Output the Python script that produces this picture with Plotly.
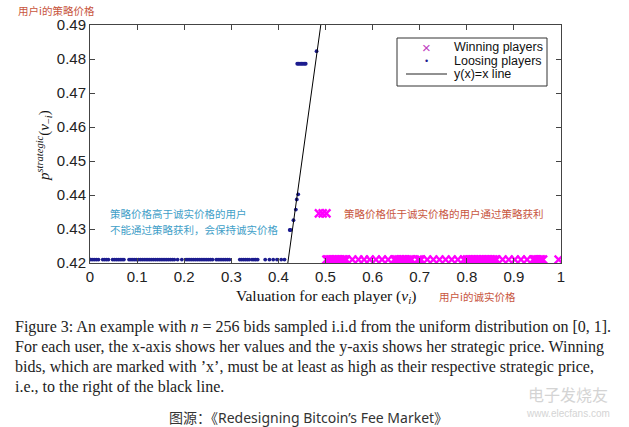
import plotly.graph_objects as go

# ---------------- data ----------------
loser_x = [0.002, 0.006, 0.010, 0.014, 0.018, 0.027, 0.031, 0.035, 0.039,
           0.048, 0.052, 0.056, 0.060, 0.064, 0.068, 0.072,
           0.083, 0.087, 0.091, 0.095, 0.099, 0.103, 0.107, 0.111, 0.115, 0.119,
           0.123, 0.127, 0.131, 0.135, 0.139, 0.143, 0.147, 0.151, 0.155, 0.159,
           0.163, 0.167, 0.171, 0.175, 0.179, 0.186, 0.195,
           0.204, 0.208, 0.212, 0.216, 0.220, 0.224, 0.228, 0.232, 0.236, 0.240,
           0.244, 0.248, 0.252, 0.256, 0.260,
           0.268, 0.272, 0.276, 0.280, 0.284, 0.288, 0.292, 0.296,
           0.318, 0.322, 0.326, 0.330, 0.334, 0.338, 0.344, 0.348, 0.352, 0.356,
           0.372, 0.381, 0.389, 0.397, 0.406, 0.413,
           0.424, 0.426, 0.432, 0.437, 0.439, 0.442,
           0.440, 0.443, 0.446, 0.449, 0.452, 0.455, 0.458, 0.481]
loser_y = [0.421] * 82 + [0.4297, 0.4297, 0.4326, 0.4357, 0.4387, 0.4402,
                          0.4786, 0.4786, 0.4786, 0.4786, 0.4786, 0.4786, 0.4786, 0.4823]

winner_x = [0.502, 0.505, 0.508, 0.511, 0.514, 0.518, 0.521, 0.524, 0.528, 0.531,
            0.535, 0.538, 0.541, 0.544,
            0.557, 0.570, 0.582, 0.594, 0.607, 0.620, 0.633, 0.646,
            0.649, 0.652, 0.656, 0.659, 0.663, 0.666, 0.670, 0.673, 0.677, 0.680, 0.683,
            0.696, 0.700, 0.703,
            0.716, 0.729, 0.742, 0.755, 0.768, 0.781, 0.794,
            0.800, 0.803, 0.806, 0.810, 0.813, 0.816, 0.820, 0.823, 0.826, 0.830,
            0.833, 0.836, 0.840, 0.843, 0.846, 0.850, 0.853, 0.856, 0.860, 0.863,
            0.876, 0.889, 0.902, 0.915, 0.928, 0.941,
            0.944, 0.947, 0.950, 0.953, 0.956, 0.959, 0.962,
            0.995,
            0.486, 0.494, 0.502]
winner_y = [0.421] * 77 + [0.4346, 0.4346, 0.4346]

line_x = [0.42, 0.49]
line_y = [0.42, 0.49]

x_ticks = [0, 0.1, 0.2, 0.3, 0.4, 0.5, 0.6, 0.7, 0.8, 0.9, 1]
x_tick_text = ["0", "0.1", "0.2", "0.3", "0.4", "0.5", "0.6", "0.7", "0.8", "0.9", "1"]
y_ticks = [0.42, 0.43, 0.44, 0.45, 0.46, 0.47, 0.48, 0.49]
y_tick_text = ["0.42", "0.43", "0.44", "0.45", "0.46", "0.47", "0.48", "0.49"]

legend_names = ["Winning players", "Loosing players", "y(x)=x line"]

# ---------------- layout helpers ----------------
W, H = 629, 427
L, R, T, B = 90, 561, 25, 263


def px(x):
    return (x - L) / (R - L)


def py(y):
    return (B - y) / (B - T)


win_color = "#ff00ff"
lose_color = "#1c1c8f"

fig = go.Figure()
fig.add_trace(go.Scatter(
    x=winner_x, y=winner_y, mode="markers", name=legend_names[0],
    marker=dict(symbol="x-thin", size=8, color=win_color,
                line=dict(color=win_color, width=2.3)),
))
fig.add_trace(go.Scatter(
    x=loser_x, y=loser_y, mode="markers", name=legend_names[1],
    marker=dict(symbol="circle", size=3.8, color=lose_color),
))
fig.add_trace(go.Scatter(
    x=line_x, y=line_y, mode="lines", name=legend_names[2],
    line=dict(color="black", width=1),
))

sans = "Liberation Sans, Arial, sans-serif"
serif = "Liberation Serif, DejaVu Serif, serif"
cjk = "Noto Sans CJK SC, sans-serif"
mixed = "Noto Sans, Noto Sans CJK SC, sans-serif"
red = "#c8553d"
blue = "#3fa0c8"

axis_common = dict(
    showgrid=False, zeroline=False, showline=True, linecolor="#444", linewidth=1,
    mirror="ticks", ticks="inside", ticklen=5, tickcolor="#444",
    tickfont=dict(family=sans, size=15, color="#222"),
)

fig.update_layout(
    width=W, height=H,
    margin=dict(l=L, r=W - R, t=T, b=H - B),
    paper_bgcolor="white", plot_bgcolor="white",
    showlegend=False,
    xaxis=dict(range=[0, 1], tickvals=x_ticks, ticktext=x_tick_text, **axis_common),
    yaxis=dict(range=[0.42, 0.49], tickvals=y_ticks, ticktext=y_tick_text, **axis_common),
)


def ann(x, y, text, font, xanchor="center", yanchor="middle", **kw):
    d = dict(x=px(x), y=py(y), xref="paper", yref="paper", text=text,
             showarrow=False, font=font, xanchor=xanchor, yanchor=yanchor)
    d.update(kw)
    return d


annotations = [
    ann(44, 146, "<i>p</i><sup><i>strategic</i></sup>(<i>v</i><sub>−<i>i</i></sub>)",
        dict(family=serif, size=15, color="#111"), textangle=-90),
    ann(326, 296, "Valuation for each player (<i>v</i><sub><i>i</i></sub>)",
        dict(family=serif, size=15.5, color="#111")),
    ann(437, 296, "用户i的诚实价格", dict(family=cjk, size=10.5, color=red), xanchor="left"),
    ann(16, 10, "用户i的策略价格", dict(family=cjk, size=10.5, color=red), xanchor="left"),
    ann(108, 213, "策略价格高于诚实价格的用户", dict(family=cjk, size=10.5, color=blue), xanchor="left"),
    ann(108, 229, "不能通过策略获利，会保持诚实价格", dict(family=cjk, size=10.5, color=blue), xanchor="left"),
    ann(342, 213, "策略价格低于诚实价格的用户通过策略获利", dict(family=cjk, size=10.5, color=red),
        xanchor="left"),
]

# manual legend (compact, like the reference)
leg_font = dict(family=sans, size=12.5, color="#111")
leg_rows = [47, 61, 74]
for name, yy in zip(legend_names, leg_rows):
    annotations.append(ann(452, yy, name, leg_font, xanchor="left"))
annotations.append(ann(426, leg_rows[0], "×", dict(family=sans, size=15, color="#c040c0")))
annotations.append(ann(426, leg_rows[1] - 0.5, "•", dict(family=sans, size=9, color=lose_color)))

shapes = [
    dict(type="rect", xref="paper", yref="paper", x0=px(397), x1=px(547), y0=py(86), y1=py(38),
         line=dict(color="#333", width=1), fillcolor="white", layer="above"),
    dict(type="line", xref="paper", yref="paper", x0=px(406), x1=px(447),
         y0=py(leg_rows[2]), y1=py(leg_rows[2]), line=dict(color="#222", width=1), layer="above"),
]

caption = [
    "Figure 3: An example with <i>n</i> = 256 bids sampled i.i.d from the uniform distribution on [0, 1].",
    "For each user, the x-axis shows her values and the y-axis shows her strategic price. Winning",
    "bids, which are marked with ’x’, must be at least as high as their respective strategic price,",
    "i.e., to the right of the black line.",
]
cap_y = [327, 347, 367, 387]
for txt, yy in zip(caption, cap_y):
    annotations.append(ann(13, yy, txt, dict(family=serif, size=16, color="#222"), xanchor="left"))

annotations.append(ann(308, 417, "图源：《Redesigning Bitcoin’s Fee Market》",
                       dict(family=mixed, size=14, color="#333")))
# watermark
annotations.append(ann(568, 394, "电子发烧友", dict(family=cjk, size=16, color="#d4d4d4")))
annotations.append(ann(568, 413, "www.elecfans.com", dict(family=sans, size=10, color="#d4d4d4")))

fig.update_layout(annotations=annotations, shapes=shapes)

fig.write_html("out.html")
